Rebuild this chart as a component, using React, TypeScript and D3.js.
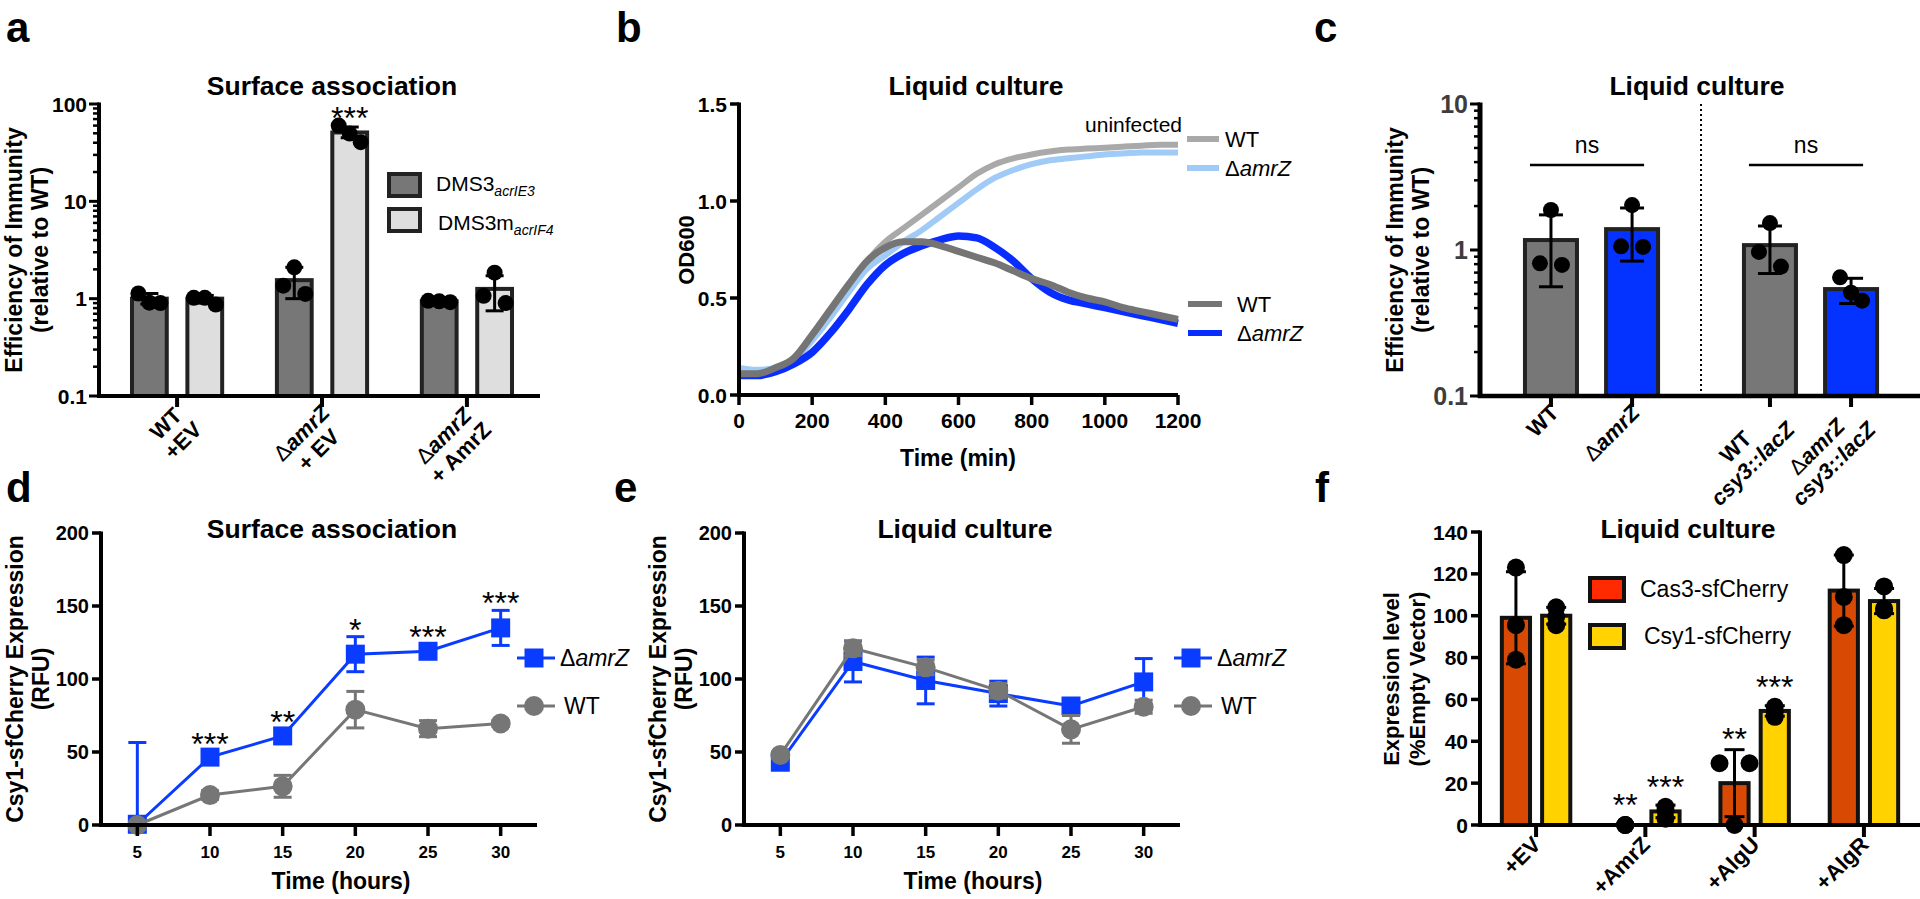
import React from "react";
import * as d3 from "d3";

const FONT = "'Liberation Sans', Arial, Helvetica, sans-serif";

// ---------------- Panel a data ----------------
const aGroups = ["WT+EV", "amrZ+EV", "amrZ+AmrZ"];
const aSeries = ["DMS3 acrIE3", "DMS3m acrIF4"];
const aMeanE3 = [1.0, 1.55, 0.94];
const aLoE3 = [0.88, 1.0, 0.92];
const aHiE3 = [1.13, 2.1, 0.97];
const aDotsE3 = [[1.13, 0.91, 0.9], [2.1, 1.12, 1.36], [0.95, 0.92, 0.94]];
const aMeanF4 = [1.0, 51, 1.26];
const aLoF4 = [0.9, 45, 0.75];
const aHiF4 = [1.08, 58, 1.72];
const aDotsF4 = [[1.02, 0.87, 1.02], [60, 40.5, 49.7], [1.85, 0.9, 1.07]];
const aStarsF4 = ["", "***", ""];
const aYTicks = [0.1, 1, 10, 100];

// ---------------- Panel b data ----------------
const bTime = [0, 50, 100, 150, 200, 250, 300, 350, 400, 450, 500, 550, 600, 650, 700, 750, 800, 850, 900, 950, 1000, 1050, 1100, 1150, 1200];
const bUninfWT = [0.11, 0.11, 0.13, 0.18, 0.3, 0.43, 0.56, 0.69, 0.79, 0.86, 0.93, 1.0, 1.07, 1.14, 1.19, 1.22, 1.24, 1.255, 1.265, 1.27, 1.275, 1.28, 1.285, 1.29, 1.29];
const bUninfAmrZ = [0.14, 0.13, 0.14, 0.18, 0.28, 0.4, 0.53, 0.65, 0.72, 0.79, 0.85, 0.92, 0.99, 1.06, 1.12, 1.16, 1.19, 1.21, 1.22, 1.23, 1.24, 1.245, 1.25, 1.25, 1.25];
const bInfWT = [0.11, 0.11, 0.14, 0.19, 0.31, 0.44, 0.57, 0.69, 0.76, 0.79, 0.79, 0.77, 0.74, 0.71, 0.68, 0.64, 0.6, 0.57, 0.53, 0.5, 0.48, 0.45, 0.43, 0.41, 0.39];
const bInfAmrZ = [0.1, 0.1, 0.12, 0.16, 0.22, 0.32, 0.44, 0.57, 0.67, 0.73, 0.77, 0.8, 0.82, 0.81, 0.76, 0.69, 0.6, 0.53, 0.49, 0.47, 0.45, 0.43, 0.41, 0.39, 0.37];
const bXTicks = [0, 200, 400, 600, 800, 1000, 1200];
const bYTicks = [0, 0.5, 1.0, 1.5];

// ---------------- Panel c data ----------------
const cCats = ["WT", "amrZ", "WT csy3", "amrZ csy3"];
const cSlot = [0, 1, 2.7, 3.7];
const cMean = [1.17, 1.39, 1.08, 0.54];
const cLo = [0.56, 0.84, 0.69, 0.43];
const cHi = [1.74, 1.94, 1.46, 0.64];
const cDots = [[1.88, 0.79, 0.81], [2.03, 1.05, 1.06], [1.53, 0.77, 0.97], [0.65, 0.45, 0.51]];
const cYTicks = [0.1, 1, 10];

// ---------------- Panel d / e data ----------------
const hours = [5, 10, 15, 20, 25, 30];
const dAmrZ = [0.5, 46.5, 61, 117, 119, 135];
const dAmrZErr = [56, 4, 5, 12, 5, 12];
const dWT = [0, 20.5, 26.5, 79, 66, 69.5];
const dWTErr = [0, 3, 7.5, 12.5, 5.5, 2];
const dStars = ["", "***", "**", "*", "***", "***"];
const eAmrZ = [43, 112, 99, 90, 81.5, 98];
const eAmrZErr = [2, 14, 16, 8.5, 3, 16];
const eWT = [48, 121, 108, 92, 65.5, 81];
const eWTErr = [2, 5, 5, 5, 9.5, 4.5];
const deYTicks = [0, 50, 100, 150, 200];

// ---------------- Panel f data ----------------
const fCats = ["+EV", "+AmrZ", "+AlgU", "+AlgR"];
const fSeries = ["Cas3-sfCherry", "Csy1-sfCherry"];
const fCas3 = [99, 0, 20, 112];
const fCas3Err = [22, 0, 16, 17];
const fCas3Dots = [[123, 95.5, 79], [0, 0, 0], [29.5, 29.5, 0], [129, 109, 95.5]];
const fCas3Stars = ["", "**", "**", ""];
const fCsy1 = [100, 6.5, 54.5, 107];
const fCsy1Err = [4, 3, 2.5, 6];
const fCsy1Dots = [[104, 99.5, 95.5], [8.7, 3, 7], [56.5, 51.7, 54], [114, 103.4, 102.6]];
const fCsy1Stars = ["", "***", "***", ""];
const fYTicks = [0, 20, 40, 60, 80, 100, 120, 140];

// ---------------- helpers ----------------
type Seg = { t: string; it?: boolean; nb?: boolean };
type Line = Seg[];
const DELTA_AMRZ: Seg[] = [{ t: "Δ", nb: true }, { t: "amrZ", it: true }];

let _ctx: any = null;
function measure(line: Line, size: number, bold = true) {
  if (!_ctx) _ctx = document.createElement("canvas").getContext("2d");
  let w = 0;
  for (const s of line) {
    _ctx.font = `${s.it ? "italic " : ""}${s.nb || !bold ? "normal" : "bold"} ${size}px ${FONT}`;
    w += _ctx.measureText(s.t).width;
  }
  return w;
}

function Segs({ line, bold = true }: { line: Line; bold?: boolean }) {
  return (
    <>
      {line.map((s, j) => (
        <tspan key={j} fontStyle={s.it ? "italic" : "normal"} fontWeight={s.nb || !bold ? "normal" : "bold"}>
          {s.t}
        </tspan>
      ))}
    </>
  );
}

function RotLabel({ x, y, lines, size, lh }: any) {
  const ws = lines.map((l: Line) => measure(l, size));
  const W = Math.max(...ws);
  return (
    <g transform={`translate(${x},${y}) rotate(-45)`}>
      {lines.map((l: Line, i: number) => (
        <text key={i} x={-W / 2} y={i * lh} textAnchor="middle" fontSize={size} fontWeight="bold" fill="#000">
          <Segs line={l} />
        </text>
      ))}
    </g>
  );
}

function YLabel({ x, cy, lines, size, gap = 26 }: any) {
  return (
    <g>
      {lines.map((l: string, i: number) => (
        <text
          key={i}
          transform={`translate(${x + i * gap},${cy}) rotate(-90)`}
          textAnchor="middle"
          fontSize={size}
          fontWeight="bold"
          fill="#000"
        >
          {l}
        </text>
      ))}
    </g>
  );
}

function Ebar({ x, y1, y2, cap, color = "#000", sw = 3 }: any) {
  return (
    <g stroke={color} strokeWidth={sw}>
      <line x1={x} x2={x} y1={y1} y2={y2} />
      <line x1={x - cap / 2} x2={x + cap / 2} y1={y1} y2={y1} />
      <line x1={x - cap / 2} x2={x + cap / 2} y1={y2} y2={y2} />
    </g>
  );
}

// horizontal offsets for overlapping dots (clusters get spread over width W)
function spread(ys: number[], thr: number, W: number, maxCluster = 9) {
  const idx = ys.map((_, i) => i).sort((a, b) => ys[a] - ys[b]);
  const clusters: number[][] = [];
  for (const i of idx) {
    const last = clusters[clusters.length - 1];
    if (last && Math.abs(ys[i] - ys[last[last.length - 1]]) < thr) last.push(i);
    else clusters.push([i]);
  }
  const off = ys.map(() => 0);
  for (const c of clusters) {
    if (c.length < 2 || c.length > maxCluster) continue;
    c.forEach((i, k) => (off[i] = -W / 2 + (k * W) / (c.length - 1)));
  }
  return off;
}

function LogAxisY({ x, y, majors, size, fill = "#000", sw = 4 }: any) {
  const [d0, d1] = y.domain();
  const minors: number[] = [];
  for (let p = Math.round(Math.log10(d0)); p < Math.round(Math.log10(d1)); p++)
    for (let k = 2; k <= 9; k++) minors.push(k * Math.pow(10, p));
  return (
    <g>
      {minors.map((v) => (
        <line key={v} x1={x - 6} x2={x} y1={y(v)} y2={y(v)} stroke="#000" strokeWidth={2.5} />
      ))}
      {majors.map((v: number) => (
        <g key={v}>
          <line x1={x - 10} x2={x} y1={y(v)} y2={y(v)} stroke="#000" strokeWidth={3} />
          <text x={x - 12} y={y(v)} dy="0.36em" textAnchor="end" fontSize={size} fontWeight="bold" fill={fill}>
            {String(v)}
          </text>
        </g>
      ))}
      <line x1={x} x2={x} y1={y(d1) - 1.5} y2={y(d0) + 2} stroke="#000" strokeWidth={sw} />
    </g>
  );
}

function LinAxisY({ x, y, ticks, size, fmt = (v: number) => String(v) }: any) {
  const [d0, d1] = y.domain();
  return (
    <g>
      {ticks.map((v: number) => (
        <g key={v}>
          <line x1={x - 9} x2={x} y1={y(v)} y2={y(v)} stroke="#000" strokeWidth={3.5} />
          <text x={x - 12} y={y(v)} dy="0.36em" textAnchor="end" fontSize={size} fontWeight="bold">
            {fmt(v)}
          </text>
        </g>
      ))}
      <line x1={x} x2={x} y1={y(d1) - 1.5} y2={y(d0) + 2} stroke="#000" strokeWidth={4} />
    </g>
  );
}

function PanelLetter({ x, y, t }: any) {
  return (
    <text x={x} y={y} fontSize={42} fontWeight="bold">
      {t}
    </text>
  );
}

function Title({ x, y, t }: any) {
  return (
    <text x={x} y={y} textAnchor="middle" fontSize={26.5} fontWeight="bold">
      {t}
    </text>
  );
}

// ---------------- Panel a ----------------
function PanelA() {
  const x = d3.scaleBand<string>().domain(aGroups).range([101, 543]).paddingInner(0.35).paddingOuter(0.2);
  const sub = d3.scaleBand<string>().domain(aSeries).range([0, x.bandwidth()]).paddingInner(0.3);
  const y = d3.scaleLog().domain([0.1, 100]).range([396, 104]);
  const base = y(0.1);
  const axX = 99;
  const series = [
    { key: aSeries[0], mean: aMeanE3, lo: aLoE3, hi: aHiE3, dots: aDotsE3, fill: "#777777", stars: null as any },
    { key: aSeries[1], mean: aMeanF4, lo: aLoF4, hi: aHiF4, dots: aDotsF4, fill: "#dedede", stars: aStarsF4 },
  ];
  const labels: Line[][] = [
    [[{ t: "WT" }], [{ t: "+EV" }]],
    [DELTA_AMRZ, [{ t: "+ EV" }]],
    [DELTA_AMRZ, [{ t: "+ AmrZ" }]],
  ];
  const bw = sub.bandwidth();
  return (
    <g>
      <PanelLetter x={6} y={42} t="a" />
      <Title x={332} y={95} t="Surface association" />
      <YLabel x={22} cy={250} lines={["Efficiency of Immunity", "(relative to WT)"]} size={23} />
      {aGroups.map((g, gi) =>
        series.map((s) => {
          const cx = (x(g) as number) + (sub(s.key) as number) + bw / 2;
          const ym = y(s.mean[gi]);
          const ys = s.dots[gi].map((v) => y(v));
          const off = spread(ys, 16, 22);
          return (
            <g key={g + s.key}>
              <rect x={cx - bw / 2 + 2} y={ym} width={bw - 4} height={base - ym} fill={s.fill} stroke="#222" strokeWidth={4} />
              <Ebar x={cx} y1={y(s.lo[gi])} y2={y(s.hi[gi])} cap={18} />
              {ys.map((yy, k) => (
                <circle key={k} cx={cx + off[k]} cy={yy} r={8} fill="#000" />
              ))}
              {s.stars && s.stars[gi] ? (
                <text x={cx} y={y(s.hi[gi]) + 2} textAnchor="middle" fontSize={32}>
                  {s.stars[gi]}
                </text>
              ) : null}
            </g>
          );
        })
      )}
      <LogAxisY x={axX} y={y} majors={aYTicks} size={21} />
      <line x1={axX - 2} x2={540} y1={base} y2={base} stroke="#000" strokeWidth={4} />
      {aGroups.map((g, gi) => {
        const cx = (x(g) as number) + x.bandwidth() / 2;
        return (
          <g key={g}>
            <line x1={cx} x2={cx} y1={base} y2={base + 11} stroke="#000" strokeWidth={4} />
            <RotLabel x={cx + 9} y={base + 18} lines={labels[gi]} size={22} lh={24} />
          </g>
        );
      })}
      {/* legend */}
      <rect x={389} y={174} width={31} height={22} fill="#777777" stroke="#222" strokeWidth={4} />
      <rect x={389} y={209} width={31} height={22} fill="#dedede" stroke="#222" strokeWidth={4} />
      <text x={436} y={191} fontSize={21}>
        DMS3
        <tspan fontStyle="italic" fontSize={14} dy={5}>
          acrIE3
        </tspan>
      </text>
      <text x={438} y={230} fontSize={21}>
        DMS3m
        <tspan fontStyle="italic" fontSize={14} dy={5}>
          acrIF4
        </tspan>
      </text>
    </g>
  );
}

// ---------------- Panel b ----------------
function PanelB() {
  const x = d3.scaleLinear().domain([0, 1200]).range([739, 1178]);
  const y = d3.scaleLinear().domain([0, 1.5]).range([395, 104]);
  const line = d3
    .line<number>()
    .x((_, i) => x(bTime[i]))
    .y((v) => y(v))
    .curve(d3.curveMonotoneX);
  const curves = [
    { v: bUninfWT, c: "#a9a9a9", w: 6 },
    { v: bUninfAmrZ, c: "#a0cbf6", w: 6 },
    { v: bInfAmrZ, c: "#0a2dff", w: 7.5 },
    { v: bInfWT, c: "#757575", w: 7 },
  ];
  return (
    <g>
      <PanelLetter x={616} y={42} t="b" />
      <Title x={976} y={95} t="Liquid culture" />
      <YLabel x={694} cy={250} lines={["OD600"]} size={22} />
      {curves.map((c, i) => (
        <path key={i} d={line(c.v) as string} fill="none" stroke={c.c} strokeWidth={c.w} strokeLinejoin="round" />
      ))}
      <LinAxisY x={739} y={y} ticks={bYTicks} size={21} fmt={(v: number) => v.toFixed(1)} />
      <line x1={737} x2={1178} y1={395} y2={395} stroke="#000" strokeWidth={4} />
      {bXTicks.map((t) => (
        <g key={t}>
          <line x1={x(t)} x2={x(t)} y1={395} y2={405} stroke="#000" strokeWidth={3.5} />
          <text x={x(t)} y={428} textAnchor="middle" fontSize={21} fontWeight="bold">
            {t}
          </text>
        </g>
      ))}
      <text x={958} y={466} textAnchor="middle" fontSize={23} fontWeight="bold">
        Time (min)
      </text>
      {/* legend */}
      <text x={1182} y={132} textAnchor="end" fontSize={21}>
        uninfected
      </text>
      <line x1={1187} x2={1219} y1={139} y2={139} stroke="#a9a9a9" strokeWidth={6} />
      <text x={1225} y={147} fontSize={22}>
        WT
      </text>
      <line x1={1187} x2={1219} y1={168} y2={168} stroke="#a0cbf6" strokeWidth={6} />
      <text x={1225} y={176} fontSize={22}>
        <Segs line={DELTA_AMRZ} bold={false} />
      </text>
      <line x1={1188} x2={1222} y1={304} y2={304} stroke="#757575" strokeWidth={6} />
      <text x={1237} y={312} fontSize={22}>
        WT
      </text>
      <line x1={1188} x2={1222} y1={333} y2={333} stroke="#0a2dff" strokeWidth={6} />
      <text x={1237} y={341} fontSize={22}>
        <Segs line={DELTA_AMRZ} bold={false} />
      </text>
    </g>
  );
}

// ---------------- Panel c ----------------
function PanelC() {
  const axX = 1480;
  const x = d3.scaleLinear().domain([-0.875, 4.55]).range([axX, 1920]);
  const y = d3.scaleLog().domain([0.1, 10]).range([396, 104]);
  const base = y(0.1);
  const bw = 56;
  const fills = ["#777777", "#0433ff", "#777777", "#0433ff"];
  const labels: Line[][] = [
    [[{ t: "WT" }]],
    [DELTA_AMRZ],
    [[{ t: "WT" }], [{ t: "csy3::lacZ", it: true }]],
    [DELTA_AMRZ, [{ t: "csy3::lacZ", it: true }]],
  ];
  const divider = x((cSlot[1] + cSlot[2]) / 2);
  return (
    <g>
      <PanelLetter x={1314} y={42} t="c" />
      <Title x={1697} y={95} t="Liquid culture" />
      <YLabel x={1403} cy={250} lines={["Efficiency of Immunity", "(relative to WT)"]} size={23} />
      <line x1={divider} x2={divider} y1={104} y2={396} stroke="#000" strokeWidth={2} strokeDasharray="2,3" />
      {cCats.map((c, i) => {
        const cx = x(cSlot[i]);
        const ym = y(cMean[i]);
        const ys = cDots[i].map((v) => y(v));
        const off = spread(ys, 16, 22);
        return (
          <g key={c}>
            <rect x={cx - bw / 2 + 2} y={ym} width={bw - 4} height={base - ym} fill={fills[i]} stroke="#222" strokeWidth={4} />
            <Ebar x={cx} y1={y(cLo[i])} y2={y(cHi[i])} cap={24} sw={3} />
            {ys.map((yy, k) => (
              <circle key={k} cx={cx + off[k]} cy={yy} r={8} fill="#000" />
            ))}
          </g>
        );
      })}
      {/* ns brackets */}
      {[0, 2].map((i) => {
        const x1 = x(cSlot[i]) - 21;
        const x2 = x(cSlot[i + 1]) + 12;
        return (
          <g key={i}>
            <line x1={x1} x2={x2} y1={165} y2={165} stroke="#000" strokeWidth={2.5} />
            <text x={(x1 + x2) / 2} y={153} textAnchor="middle" fontSize={23}>
              ns
            </text>
          </g>
        );
      })}
      <LogAxisY x={axX} y={y} majors={cYTicks} size={25} fill="#3d3d3d" sw={5} />
      <line x1={axX - 2} x2={1920} y1={base} y2={base} stroke="#000" strokeWidth={4.5} />
      {cCats.map((c, i) => {
        const cx = x(cSlot[i]);
        return (
          <g key={c}>
            <line x1={cx} x2={cx} y1={base} y2={base + 11} stroke="#000" strokeWidth={4} />
            <RotLabel x={cx + 9} y={base + 18} lines={labels[i]} size={22} lh={24} />
          </g>
        );
      })}
    </g>
  );
}

// ---------------- Panels d / e ----------------
function TimePanel({ axX, letter, letterX, title, titleX, xLabelX, amrZ, amrZErr, wt, wtErr, stars, legX }: any) {
  const x = d3.scaleLinear().domain([2.5, 32.5]).range([axX, axX + 436]);
  const y = d3.scaleLinear().domain([0, 200]).range([825, 533]);
  const BLUE = "#0a3cff";
  const GRAY = "#767676";
  const line = d3
    .line<number>()
    .x((_, i) => x(hours[i]))
    .y((v) => y(v));
  const clampY = (v: number) => y(Math.max(0, v));
  return (
    <g>
      <PanelLetter x={letterX} y={502} t={letter} />
      <Title x={titleX} y={538} t={title} />
      <YLabel x={axX - 78} cy={679} lines={["Csy1-sfCherry Expression", "(RFU)"]} size={23} gap={26} />
      {/* amrZ (blue) */}
      <path d={line(amrZ) as string} fill="none" stroke={BLUE} strokeWidth={3} />
      {hours.map((h, i) => (
        <Ebar key={"ea" + i} x={x(h)} y1={clampY(amrZ[i] - amrZErr[i])} y2={y(amrZ[i] + amrZErr[i])} cap={18} color={BLUE} sw={3} />
      ))}
      {hours.map((h, i) => (
        <rect key={"sa" + i} x={x(h) - 9.5} y={y(amrZ[i]) - 9.5} width={19} height={19} fill={BLUE} />
      ))}
      {/* WT (gray) */}
      <path d={line(wt) as string} fill="none" stroke={GRAY} strokeWidth={3} />
      {hours.map((h, i) =>
        wtErr[i] > 0 ? (
          <Ebar key={"ew" + i} x={x(h)} y1={clampY(wt[i] - wtErr[i])} y2={y(wt[i] + wtErr[i])} cap={18} color={GRAY} sw={3} />
        ) : null
      )}
      {hours.map((h, i) => (
        <circle key={"cw" + i} cx={x(h)} cy={y(wt[i])} r={10} fill={GRAY} />
      ))}
      {stars
        ? hours.map((h, i) =>
            stars[i] ? (
              <text key={"st" + i} x={x(h)} y={y(amrZ[i] + amrZErr[i]) + 4} textAnchor="middle" fontSize={32}>
                {stars[i]}
              </text>
            ) : null
          )
        : null}
      <LinAxisY x={axX} y={y} ticks={deYTicks} size={20} />
      <line x1={axX - 2} x2={axX + 436} y1={825} y2={825} stroke="#000" strokeWidth={4} />
      {hours.map((h) => (
        <g key={h}>
          <line x1={x(h)} x2={x(h)} y1={825} y2={836} stroke="#000" strokeWidth={3.5} />
          <text x={x(h)} y={858} textAnchor="middle" fontSize={17} fontWeight="bold">
            {h}
          </text>
        </g>
      ))}
      <text x={xLabelX} y={889} textAnchor="middle" fontSize={23} fontWeight="bold">
        Time (hours)
      </text>
      {/* legend */}
      <line x1={legX - 17} x2={legX + 21} y1={658} y2={658} stroke={BLUE} strokeWidth={3} />
      <rect x={legX - 9.5} y={648.5} width={19} height={19} fill={BLUE} />
      <text x={legX + 26} y={666} fontSize={23}>
        <Segs line={DELTA_AMRZ} bold={false} />
      </text>
      <line x1={legX - 17} x2={legX + 21} y1={706} y2={706} stroke={GRAY} strokeWidth={3} />
      <circle cx={legX} cy={706} r={10} fill={GRAY} />
      <text x={legX + 30} y={714} fontSize={23}>
        WT
      </text>
    </g>
  );
}

// ---------------- Panel f ----------------
function PanelF() {
  const axX = 1480;
  const x = d3.scaleBand<string>().domain(fCats).range([axX, 1920]).paddingInner(0.3).paddingOuter(0.163);
  const sub = d3.scaleBand<string>().domain(fSeries).range([0, x.bandwidth()]).paddingInner(0.3).paddingOuter(0.1);
  const y = d3.scaleLinear().domain([0, 140]).range([825, 532]);
  const base = 825;
  const bw = sub.bandwidth();
  const series = [
    { key: fSeries[0], mean: fCas3, err: fCas3Err, dots: fCas3Dots, stars: fCas3Stars, fill: "#d84a04", leg: "#ff2a00" },
    { key: fSeries[1], mean: fCsy1, err: fCsy1Err, dots: fCsy1Dots, stars: fCsy1Stars, fill: "#ffd200", leg: "#ffd200" },
  ];
  return (
    <g>
      <PanelLetter x={1315} y={502} t="f" />
      <Title x={1688} y={538} t="Liquid culture" />
      <YLabel x={1399} cy={679} lines={["Expression level", "(%Empty Vector)"]} size={22} gap={26} />
      {fCats.map((c, ci) =>
        series.map((s) => {
          const cx = (x(c) as number) + (sub(s.key) as number) + bw / 2;
          const ym = y(s.mean[ci]);
          const ys = s.dots[ci].map((v) => y(v));
          const off = spread(ys, 1, 30, 2);
          const top = Math.min(y(s.mean[ci] + s.err[ci]), Math.min(...ys) - 9);
          return (
            <g key={c + s.key}>
              {s.mean[ci] > 0 ? (
                <rect x={cx - bw / 2} y={ym} width={bw} height={base - ym} fill={s.fill} stroke="#111" strokeWidth={4} />
              ) : null}
              {s.err[ci] > 0 ? (
                <Ebar x={cx} y1={y(Math.max(0, s.mean[ci] - s.err[ci]))} y2={y(s.mean[ci] + s.err[ci])} cap={20} sw={3} />
              ) : null}
              {ys.map((yy, k) => (
                <circle key={k} cx={cx + off[k]} cy={yy} r={9} fill="#000" />
              ))}
              {s.stars[ci] ? (
                <text x={cx} y={top} textAnchor="middle" fontSize={32}>
                  {s.stars[ci]}
                </text>
              ) : null}
            </g>
          );
        })
      )}
      <LinAxisY x={axX} y={y} ticks={fYTicks} size={21} />
      <line x1={axX - 2} x2={1920} y1={base} y2={base} stroke="#000" strokeWidth={4} />
      {fCats.map((c) => {
        const cx = (x(c) as number) + x.bandwidth() / 2;
        return (
          <g key={c}>
            <line x1={cx} x2={cx} y1={base} y2={base + 12} stroke="#000" strokeWidth={4} />
            <RotLabel x={cx + 6} y={base + 21} lines={[[{ t: c }]]} size={22} lh={24} />
          </g>
        );
      })}
      {/* legend */}
      {series.map((s, i) => (
        <g key={s.key}>
          <rect x={1590} y={578 + i * 47} width={34} height={23} fill={s.leg} stroke="#111" strokeWidth={4} />
          <text x={1640 + i * 4} y={597 + i * 47} fontSize={23}>
            {s.key}
          </text>
        </g>
      ))}
    </g>
  );
}

export default function App() {
  return (
    <svg
      width={1920}
      height={899}
      style={{ position: "absolute", left: 0, top: 0, background: "#fff" }}
      fontFamily={FONT}
    >
      <rect width={1920} height={899} fill="#fff" />
      <PanelA />
      <PanelB />
      <PanelC />
      <TimePanel
        axX={101}
        letter="d"
        letterX={6}
        title="Surface association"
        titleX={332}
        xLabelX={341}
        amrZ={dAmrZ}
        amrZErr={dAmrZErr}
        wt={dWT}
        wtErr={dWTErr}
        stars={dStars}
        legX={534}
      />
      <TimePanel
        axX={744}
        letter="e"
        letterX={614}
        title="Liquid culture"
        titleX={965}
        xLabelX={973}
        amrZ={eAmrZ}
        amrZErr={eAmrZErr}
        wt={eWT}
        wtErr={eWTErr}
        stars={null}
        legX={1191}
      />
      <PanelF />
    </svg>
  );
}
